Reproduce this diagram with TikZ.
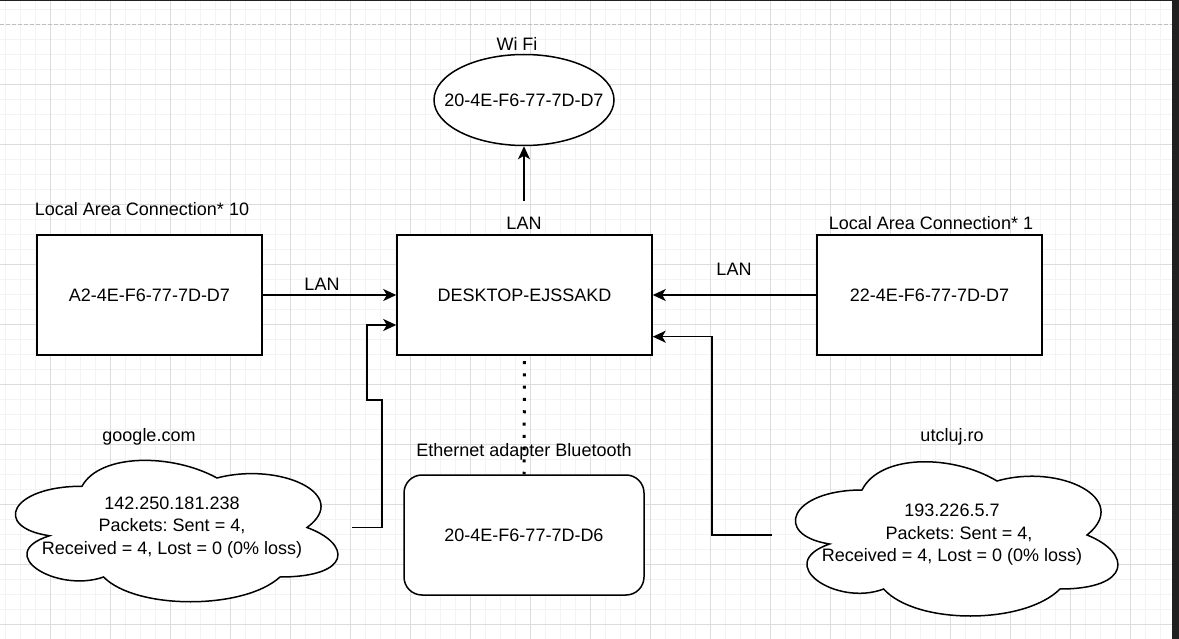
\documentclass[tikz,border=0pt]{standalone}
\usepackage{fontspec}
\setmainfont{Liberation Sans}
\frenchspacing
\usetikzlibrary{shapes.geometric,arrows.meta}
\definecolor{drawcolor0000}{RGB}{255,255,255}
\definecolor{drawcolor0001}{RGB}{0,0,0}
\definecolor{drawcolor0002}{RGB}{243,243,243}
\definecolor{drawcolor0003}{RGB}{220,220,220}
\definecolor{drawcolor0004}{RGB}{190,190,190}
\definecolor{drawcolor0005}{RGB}{32,32,32}
\newcommand{\drawcloud}[4]{%
\draw[pstyle6,shift={(#1pt,#2pt)},xscale=#3,yscale=#4] (0.25pt,0.25pt) .. controls (0.05pt,0.25pt) and (0pt,0.5pt) .. (0.16pt,0.55pt) .. controls (0pt,0.66pt) and (0.18pt,0.9pt) .. (0.31pt,0.8pt) .. controls (0.4pt,1pt) and (0.7pt,1pt) .. (0.8pt,0.8pt) .. controls (1pt,0.8pt) and (1pt,0.6pt) .. (0.875pt,0.5pt) .. controls (1pt,0.3pt) and (0.8pt,0.1pt) .. (0.625pt,0.2pt) .. controls (0.5pt,0.05pt) and (0.3pt,0.05pt) .. (0.25pt,0.25pt) -- cycle;}
\begin{document}
\begin{tikzpicture}[yscale=-1
,font=\fontsize{18}{22.5}\selectfont
,pstyle1/.style={color=drawcolor0002,line width=0.8pt}
,pstyle2/.style={color=drawcolor0003,line width=0.8pt}
,pstyle3/.style={draw=drawcolor0001,fill=drawcolor0000,line width=1.5pt,rectangle,minimum height=120pt,inner sep=0pt}
,pstyle4/.style={color=drawcolor0001,line width=1.5pt,-{Stealth[length=13pt,width=12pt,inset=3.5pt]}}
,pstyle5/.style={inner sep=0pt,outer sep=0pt,align=center}
,pstyle6/.style={draw=drawcolor0001,fill=drawcolor0000,line width=1.5pt}
]
\useasboundingbox (0pt,0pt) rectangle (1179pt,639pt);
\fill[drawcolor0000] (0pt,0pt) rectangle (1179pt,639pt);
\foreach \x in {5,20,...,1170} \draw[pstyle1] (\x pt,1pt) -- (\x pt,639pt);
\foreach \y in {9,24,...,639} \draw[pstyle1] (0pt,\y pt) -- (1172pt,\y pt);
\foreach \x in {50,110,...,1130} \draw[pstyle2] (\x pt,1pt) -- (\x pt,639pt);
\foreach \y in {84,144,...,624} \draw[pstyle2] (0pt,\y pt) -- (1172pt,\y pt);
\draw[color=drawcolor0004,line width=1pt,dash pattern=on 4pt off 2pt] (0pt,24.5pt) -- (1172pt,24.5pt);
\fill[drawcolor0005] (0pt,0pt) rectangle (1179pt,1pt);
\fill[drawcolor0005] (1172pt,0pt) rectangle (1179pt,639pt);
\node (wifi) at (524pt,100pt)[ellipse,pstyle6,minimum width=180pt,minimum height=91pt,inner sep=0pt]{\makebox[0pt]{20-4E-F6-77-7D-D7}};
\node (wifilabel) at (517pt,44pt)[pstyle5]{Wi Fi};
\node (lan10) at (149.5pt,295pt)[pstyle3,minimum width=225pt]{A2-4E-F6-77-7D-D7};
\node (lan10label) at (142pt,209pt)[pstyle5]{Local Area Connection* 10};
\node (desktop) at (524.5pt,295pt)[pstyle3,minimum width=255pt]{DESKTOP-EJSSAKD};
\node (lan1) at (929.5pt,295pt)[pstyle3,minimum width=225pt]{22-4E-F6-77-7D-D7};
\node (lan1label) at (931pt,223pt)[pstyle5]{Local Area Connection* 1};
\node (bluetooth) at (524pt,535pt)[pstyle3,minimum width=240pt,rounded corners=18pt]{20-4E-F6-77-7D-D6};
\node (btlabel) at (524pt,452pt)[pstyle5]{Ethernet adapter Bluetooth};
\node (uplan) at (524pt,223pt)[pstyle5,minimum height=43pt]{LAN};
\node (leftlan) at (322pt,284pt)[pstyle5]{LAN};
\node (rightlan) at (734pt,269pt)[pstyle5]{LAN};
\node (googlelabel) at (149pt,437pt)[pstyle5]{google.com};
\node (utclujlabel) at (952pt,437pt)[pstyle5]{utcluj.ro};
\drawcloud{-8}{445}{360}{165}
\node (google) at (172pt,527.5pt)[pstyle5,minimum width=360pt,minimum height=165pt]{142.250.181.238\\Packets: Sent = 4,\\Received = 4, Lost = 0 (0\% loss)};
\drawcloud{772}{445}{360}{180}
\node (utcluj) at (952pt,535pt)[pstyle5,minimum width=360pt,minimum height=180pt]{193.226.5.7\\\hspace*{14pt}Packets: Sent = 4,\\Received = 4, Lost = 0 (0\% loss)};
\coordinate (gbend) at (367pt,325pt);
\coordinate (ubend) at (712pt,336.7pt);
\draw[pstyle4] (uplan) -- (wifi);
\draw[pstyle4] (lan10) -- (desktop);
\draw[pstyle4] (lan1) -- (desktop);
\draw[pstyle4] (google.east) -- (382pt,527.5pt) -- (382pt,400pt) -- (367pt,400pt) -- (gbend) -- (gbend -| desktop.west);
\draw[pstyle4] (utcluj.west) -- (ubend |- utcluj.west) -- (ubend) -- (ubend -| desktop.east);
\draw[color=drawcolor0001,line width=3pt,dash pattern=on 3pt off 9.3pt,dash phase=7pt] (desktop.south) -- (bluetooth.north);
\end{tikzpicture}
\end{document}
